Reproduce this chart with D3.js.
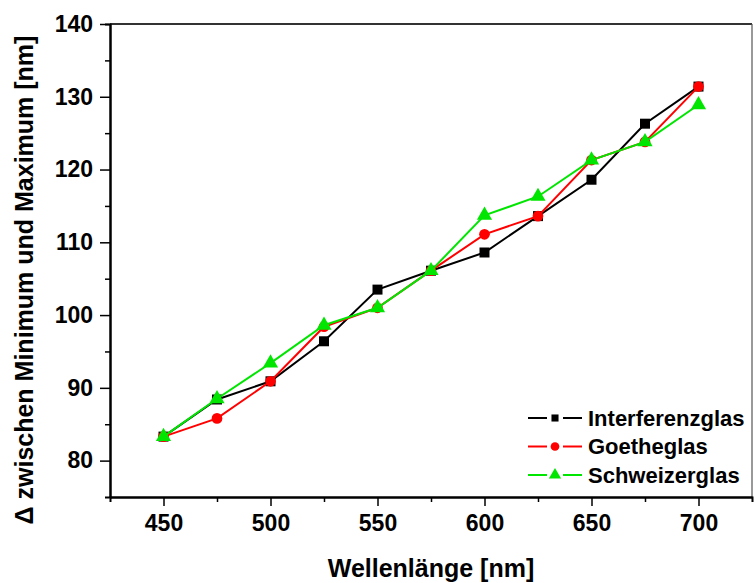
<!DOCTYPE html>
<html>
<head>
<meta charset="utf-8">
<script src="https://cdn.jsdelivr.net/npm/d3@7"></script>
<style>
  body { margin: 0; background: #fff; }
  text { font-family: "Liberation Sans", Arial, sans-serif; font-weight: bold; }
</style>
</head>
<body>
<svg id="chart"></svg>
<script>
// data
const wavelengths = [450, 475, 500, 525, 550, 575, 600, 625, 650, 675, 700];
const interferenzglas = [83.3, 88.4, 90.9, 96.4, 103.5, 106.1, 108.6, 113.6, 118.6, 126.3, 131.4];
const goetheglas = [83.3, 85.8, 90.9, 98.4, 101.0, 106.1, 111.1, 113.6, 121.3, 123.8, 131.4];
const schweizerglas = [83.3, 88.5, 93.4, 98.6, 101.0, 106.1, 113.7, 116.3, 121.3, 123.8, 128.9];
const seriesNames = ["Interferenzglas", "Goetheglas", "Schweizerglas"];
const xTicks = [450, 500, 550, 600, 650, 700];
const yTicks = [80, 90, 100, 110, 120, 130, 140];

const W = 754, H = 583;
const margin = {left: 110, right: 2, top: 24, bottom: 86};

const svg = d3.select("#chart").attr("width", W).attr("height", H);

const x = d3.scaleLinear().domain([425, 725]).range([margin.left, W - margin.right]);
const y = d3.scaleLinear().domain([75, 140]).range([H - margin.bottom, margin.top]);

const series = [
  {name: seriesNames[0], values: interferenzglas, color: "#000000", symbol: d3.symbolSquare, size: 100, lsize: 50},
  {name: seriesNames[1], values: goetheglas, color: "#ff0000", symbol: d3.symbolCircle, size: 90, lsize: 60},
  {name: seriesNames[2], values: schweizerglas, color: "#00e600", symbol: d3.symbolTriangle, size: 100, lsize: 65}
];

// frame top / right
svg.append("line")
  .attr("x1", margin.left).attr("x2", W - margin.right)
  .attr("y1", margin.top).attr("y2", margin.top)
  .attr("stroke", "#333").attr("stroke-width", 2);
svg.append("line")
  .attr("x1", W - margin.right).attr("x2", W - margin.right)
  .attr("y1", margin.top).attr("y2", H - margin.bottom)
  .attr("stroke", "#555").attr("stroke-width", 1.2);

// axes
const xAxisG = svg.append("g").attr("transform", `translate(0,${H - margin.bottom})`);
xAxisG.call(d3.axisBottom(x).tickValues(d3.range(475, 725, 50)).tickSize(5).tickFormat(""));
xAxisG.append("g").call(d3.axisBottom(x).tickValues(xTicks).tickSize(9).tickPadding(9).tickSizeOuter(0));
xAxisG.selectAll("path").attr("stroke", "#000").attr("stroke-width", 2);
xAxisG.selectAll("line").attr("stroke", "#000").attr("stroke-width", 1.5);
xAxisG.selectAll("text").attr("fill", "#000").style("font-size", "23px");

const yAxisG = svg.append("g").attr("transform", `translate(${margin.left},0)`);
yAxisG.call(d3.axisLeft(y).tickValues(d3.range(85, 140, 10)).tickSize(5).tickFormat(""));
yAxisG.append("g").call(d3.axisLeft(y).tickValues(yTicks).tickSize(10).tickPadding(7).tickSizeOuter(0));
yAxisG.selectAll("path").attr("stroke", "#000").attr("stroke-width", 2);
yAxisG.selectAll("line").attr("stroke", "#000").attr("stroke-width", 1.5);
yAxisG.selectAll("text").attr("fill", "#000").style("font-size", "23px");

// titles
svg.append("text")
  .attr("x", (margin.left + W - margin.right) / 2)
  .attr("y", 577)
  .attr("text-anchor", "middle")
  .style("font-size", "25px")
  .text("Wellenlänge [nm]");

svg.append("text")
  .attr("transform", "translate(33,280) rotate(-90)")
  .attr("text-anchor", "middle")
  .style("font-size", "25px")
  .text("Δ zwischen Minimum und Maximum [nm]");

// lines + markers
const line = d3.line()
  .x((d, i) => x(wavelengths[i]))
  .y(d => y(d));

series.forEach(s => {
  const g = svg.append("g");
  g.append("path")
    .attr("d", line(s.values))
    .attr("fill", "none")
    .attr("stroke", s.color)
    .attr("stroke-width", 2);
  g.selectAll("path.pt")
    .data(s.values)
    .join("path")
      .attr("class", "pt")
      .attr("transform", (d, i) => `translate(${x(wavelengths[i])},${y(d)})`)
      .attr("d", d3.symbol().type(s.symbol).size(s.size))
      .attr("fill", s.color);
});

// legend
const legend = svg.append("g").attr("transform", "translate(528,418)");
series.forEach((s, i) => {
  const g = legend.append("g").attr("transform", `translate(0,${i * 28.5})`);
  g.append("line").attr("x1", 0).attr("x2", 19).attr("stroke", s.color).attr("stroke-width", 2);
  g.append("line").attr("x1", 35).attr("x2", 54).attr("stroke", s.color).attr("stroke-width", 2);
  g.append("path")
    .attr("transform", "translate(27,0)")
    .attr("d", d3.symbol().type(s.symbol).size(s.lsize))
    .attr("fill", s.color);
  g.append("text")
    .attr("x", 60)
    .attr("dy", "0.35em")
    .style("font-size", "22px")
    .text(s.name);
});
</script>
</body>
</html>
